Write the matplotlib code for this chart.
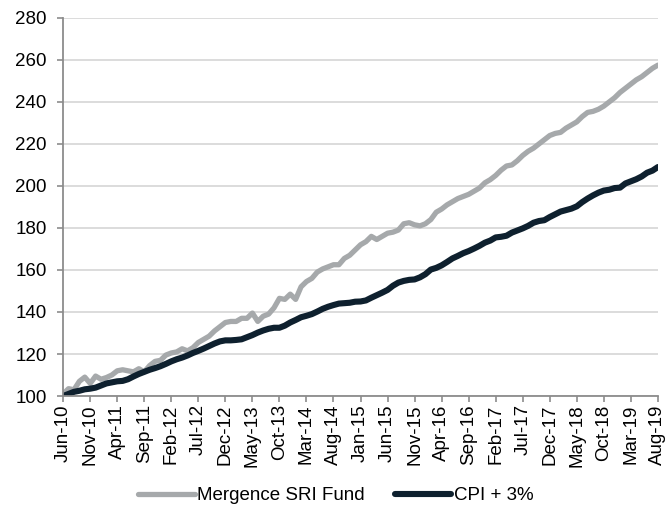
import numpy as np
import matplotlib
matplotlib.use("Agg")
from matplotlib import pyplot as plt

plt.rcParams['font.family'] = ['Liberation Sans', 'DejaVu Sans']

# monthly index values, Jun-10 .. Aug-19
fund = [101, 103.5, 103, 107, 109, 106, 109.5, 108, 108.8, 110,
        112, 112.5, 112, 111.5, 113, 111.5, 114.5, 116.5, 117, 119.5,
        120.5, 121, 122.5, 121.5, 123, 125.5, 127, 128.5, 131, 133,
        135, 135.5, 135.5, 137, 137, 139.5, 135.5, 138, 139, 142,
        146.5, 146, 148.5, 146, 152, 154.5, 156, 159, 160.5, 161.5,
        162.5, 162.5, 165.5, 167, 169.5, 172, 173.5, 176, 174.5, 176,
        177.5, 178, 179, 182, 182.5, 181.5, 181, 182, 184, 187.5,
        189, 191, 192.5, 194, 195, 196, 197.5, 199, 201.5, 203,
        205, 207.5, 209.5, 210, 212, 214.5, 216.5, 218, 220, 222,
        224, 225, 225.5, 227.5, 229, 230.5, 233, 235, 235.5, 236.5,
        238, 240, 242, 244.5, 246.5, 248.5, 250.5, 252, 254, 256,
        257.5]
cpi = [100, 101, 102, 102.5, 103.2, 103.5, 104, 105, 106, 106.5,
       107, 107.2, 108, 109.3, 110.5, 111.5, 112.5, 113.3, 114.2, 115.3,
       116.5, 117.5, 118.3, 119.3, 120.5, 121.5, 122.6, 123.8, 125, 126,
       126.5, 126.5, 126.7, 127, 128, 129, 130.2, 131.2, 132, 132.5,
       132.5, 133.5, 135, 136.2, 137.5, 138.2, 139, 140.2, 141.5, 142.5,
       143.3, 144, 144.2, 144.4, 144.9, 145, 145.5, 146.8, 148, 149.2,
       150.5, 152.5, 154, 154.8, 155.3, 155.5, 156.5, 158, 160.2, 161,
       162.2, 163.8, 165.5, 166.7, 168, 169, 170.2, 171.5, 173, 174,
       175.5, 175.8, 176.3, 177.8, 178.8, 179.8, 181, 182.5, 183.3, 183.7,
       185.2, 186.5, 187.8, 188.5, 189.2, 190.3, 192.3, 194, 195.5, 196.8,
       197.8, 198.2, 199, 199.2, 201.2, 202.2, 203.2, 204.5, 206.3, 207.3,
       209]

tick_labels = ['Jun-10', 'Nov-10', 'Apr-11', 'Sep-11', 'Feb-12', 'Jul-12',
               'Dec-12', 'May-13', 'Oct-13', 'Mar-14', 'Aug-14', 'Jan-15',
               'Jun-15', 'Nov-15', 'Apr-16', 'Sep-16', 'Feb-17', 'Jul-17',
               'Dec-17', 'May-18', 'Oct-18', 'Mar-19', 'Aug-19']
series_names = ['Mergence SRI Fund', 'CPI + 3%']

x = np.arange(len(fund))

fig = plt.figure(figsize=(6.72, 5.11), dpi=100)
ax = fig.add_axes([0.094, 0.225, 0.885, 0.740])

ax.plot(x, fund, color='#A6A9AB', lw=3.8, label=series_names[0], solid_capstyle='round')
ax.plot(x, cpi, color='#0E202E', lw=4.4, label=series_names[1], solid_capstyle='round')

ax.set_ylim(100, 280)
ax.set_yticks(np.arange(100, 281, 20))
ax.set_xlim(0, len(fund) - 1)
ax.set_xticks(np.arange(0, len(fund), 5))
ax.set_xticklabels(tick_labels, rotation=90)

ax.grid(axis='y', color='#D9D9D9', lw=1.3)
ax.set_axisbelow(True)
for s in ['top', 'right']:
    ax.spines[s].set_visible(False)
for s in ['left', 'bottom']:
    ax.spines[s].set_color('#8C8C8C')
    ax.spines[s].set_linewidth(1.3)
ax.tick_params(axis='both', colors='#8C8C8C', labelcolor='black', labelsize=13.5,
               length=4, width=1.2)
ax.tick_params(axis='x', pad=2)
ax.tick_params(axis='y', pad=8)

fig.legend(loc='lower center', bbox_to_anchor=(0.5, -0.02), ncol=2, frameon=False,
           fontsize=13.5, handlelength=3.0, handletextpad=0.15, columnspacing=1.6)

fig.savefig('out.png', dpi=100)
